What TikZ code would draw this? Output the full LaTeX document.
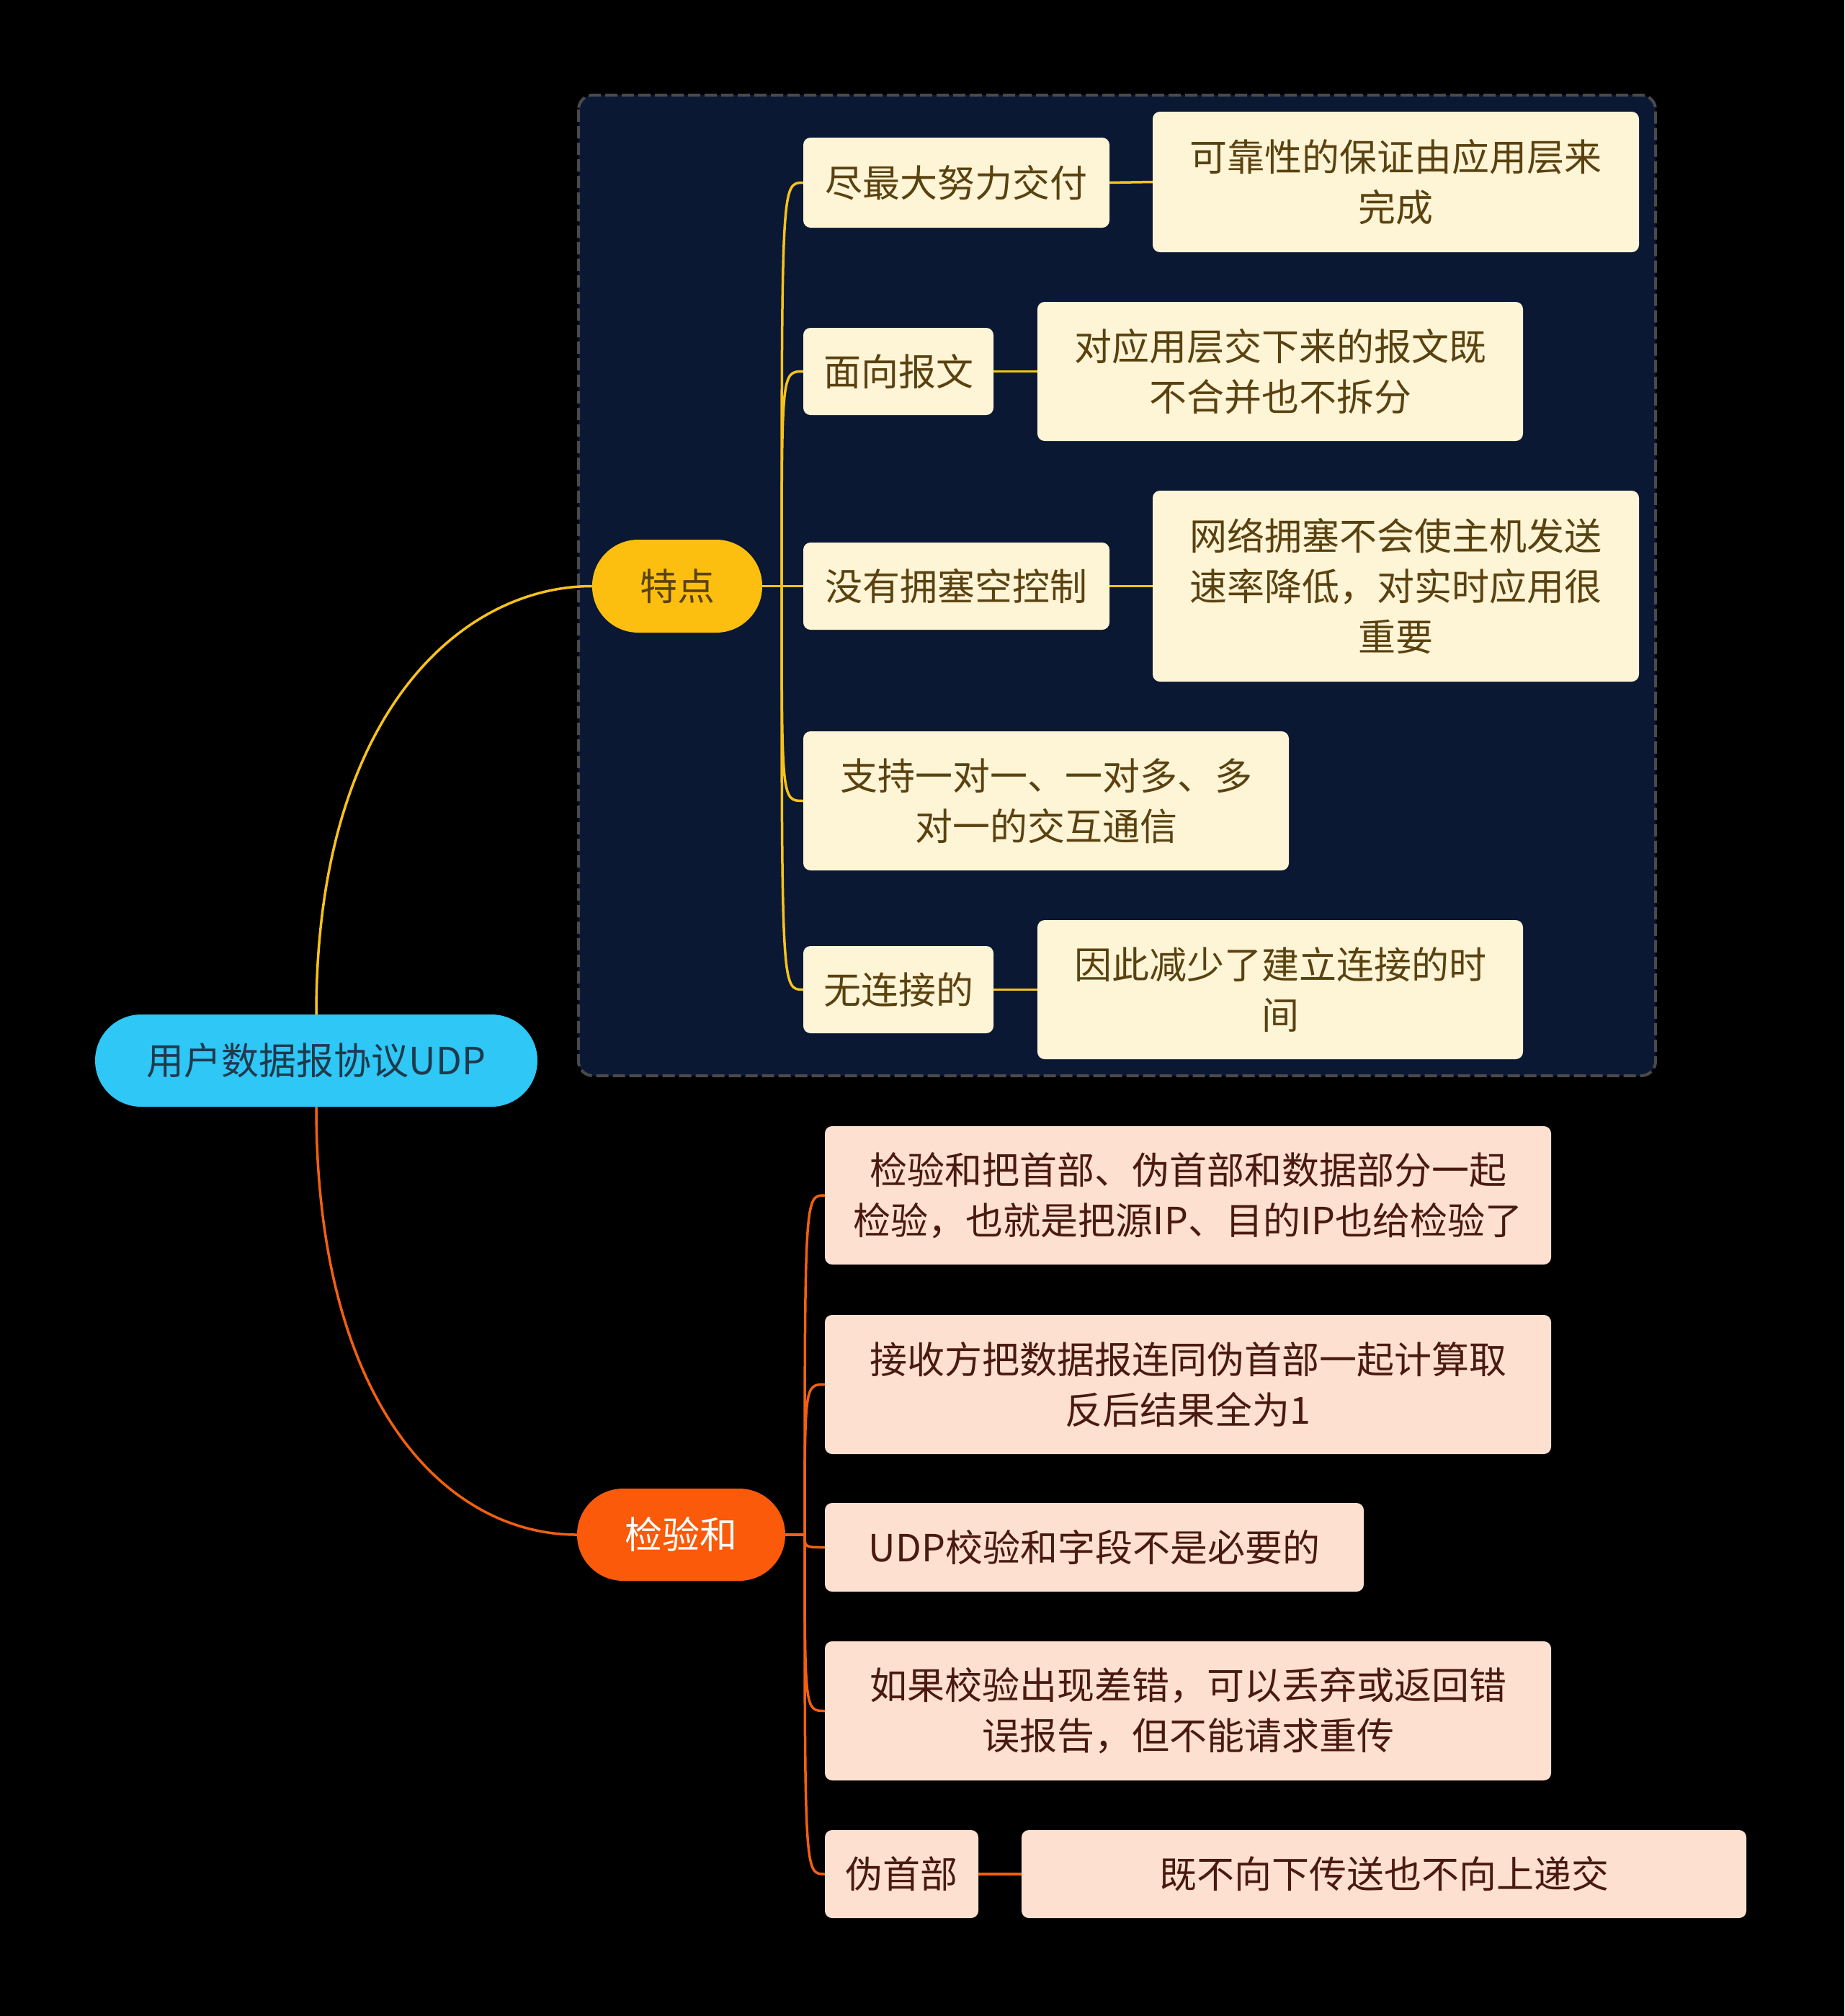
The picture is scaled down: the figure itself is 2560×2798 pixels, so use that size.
\documentclass[tikz,border=0pt]{standalone}
\usepackage{fontspec}
\setmainfont{Noto Sans CJK SC}
\begin{document}
\begin{tikzpicture}[x=1pt,y=-1pt,
  every node/.style={inner sep=0pt, align=center, font=\fontsize{52}{70}\selectfont},
  ybox/.style={fill=cream, text=ytext, rounded corners=10pt},
  obox/.style={fill=peach, text=otext, rounded corners=10pt},
  yline/.style={draw=lineY, line width=3.5pt},
  oline/.style={draw=lineO, line width=3.5pt},
]
\definecolor{bg}{HTML}{000000}
\definecolor{navy}{HTML}{0A1833}
\definecolor{dashc}{HTML}{4A4A4A}
\definecolor{cream}{HTML}{FEF4D6}
\definecolor{peach}{HTML}{FEE0D1}
\definecolor{ytext}{HTML}{5A4210}
\definecolor{otext}{HTML}{4A1A10}
\definecolor{lineY}{HTML}{F7C21B}
\definecolor{lineO}{HTML}{F2600F}
\definecolor{rootc}{HTML}{2EC7F6}
\definecolor{roottext}{HTML}{1F3A4C}
\definecolor{tdc}{HTML}{FCBF10}
\definecolor{jyc}{HTML}{FA5A0A}

\fill[bg] (0,0) rectangle (2560,2798);
\useasboundingbox (0,0) rectangle (2560,2798);

% container
\draw[fill=navy, draw=dashc, line width=4pt, dash pattern=on 17pt off 6pt, rounded corners=20pt]
  (803,132) rectangle (2298,1493);

% main nodes
\node[fill=rootc, text=roottext, rounded corners=64pt, minimum width=614pt, minimum height=128pt] (root) at (439,1472) {用户数据报协议UDP};
\node[fill=tdc, text=ytext, rounded corners=64pt, minimum width=236pt, minimum height=129pt] (td) at (940,813.5) {特点};
\node[fill=jyc, text=white, rounded corners=64pt, minimum width=289pt, minimum height=128pt] (jy) at (945.5,2130) {检验和};

% 特点 children
\node[ybox, minimum width=425pt, minimum height=125pt] (a1) at (1327.5,253.5) {尽最大努力交付};
\node[ybox, minimum width=675pt, minimum height=195pt] (a1r) at (1937.5,252.5) {可靠性的保证由应用层来\\完成};
\node[ybox, minimum width=264pt, minimum height=121pt] (a2) at (1247,515.5) {面向报文};
\node[ybox, minimum width=674pt, minimum height=193pt] (a2r) at (1777,515.5) {对应用层交下来的报文既\\不合并也不拆分};
\node[ybox, minimum width=425pt, minimum height=121pt] (a3) at (1327.5,813.5) {没有拥塞空控制};
\node[ybox, minimum width=675pt, minimum height=265pt] (a3r) at (1937.5,813.5) {网络拥塞不会使主机发送\\速率降低，对实时应用很\\重要};
\node[ybox, minimum width=674pt, minimum height=193pt] (a4) at (1452,1111.5) {支持一对一、一对多、多\\对一的交互通信};
\node[ybox, minimum width=264pt, minimum height=121pt] (a5) at (1247,1373.5) {无连接的};
\node[ybox, minimum width=674pt, minimum height=193pt] (a5r) at (1777,1373.5) {因此减少了建立连接的时\\间};

% 检验和 children
\node[obox, minimum width=1008pt, minimum height=192pt] (b1) at (1649,1659) {检验和把首部、伪首部和数据部分一起\\检验，也就是把源IP、目的IP也给检验了};
\node[obox, minimum width=1008pt, minimum height=193pt] (b2) at (1649,1921.5) {接收方把数据报连同伪首部一起计算取\\反后结果全为1};
\node[obox, minimum width=748pt, minimum height=123pt] (b3) at (1519,2147.5) {UDP校验和字段不是必要的};
\node[obox, minimum width=1008pt, minimum height=193pt] (b4) at (1649,2374.5) {如果校验出现差错，可以丢弃或返回错\\误报告，但不能请求重传};
\node[obox, minimum width=213pt, minimum height=122pt] (b5) at (1251.5,2601) {伪首部};
\node[obox, minimum width=1006pt, minimum height=122pt] (b5r) at (1921,2601) {既不向下传送也不向上递交};

% root connectors
\draw[yline] (root.north) .. controls (439,990) and (641,813.5) .. (td.west);
\draw[oline] (root.south) .. controls (439,1950) and (620,2130) .. (jy.west);

% bracket 特点
\coordinate (jt) at (1085,813.5);
\draw[yline] (td.east) -- (jt);
\foreach \c in {a1,a2,a3,a4,a5}{
  \draw[yline] (jt) .. controls (jt |- \c.west) and (jt |- \c.west) .. (\c.west);
}
\draw[yline] (a1.east) -- (a1r.west);
\draw[yline] (a2.east) -- (a2r.west);
\draw[yline] (a3.east) -- (a3r.west);
\draw[yline] (a5.east) -- (a5r.west);

% bracket 检验和
\coordinate (jo) at (1117,2130);
\draw[oline] (jy.east) -- (jo);
\foreach \c in {b1,b2,b3,b4,b5}{
  \draw[oline] (jo) .. controls (jo |- \c.west) and (jo |- \c.west) .. (\c.west);
}
\draw[oline] (b5.east) -- (b5r.west);
\end{tikzpicture}
\end{document}
